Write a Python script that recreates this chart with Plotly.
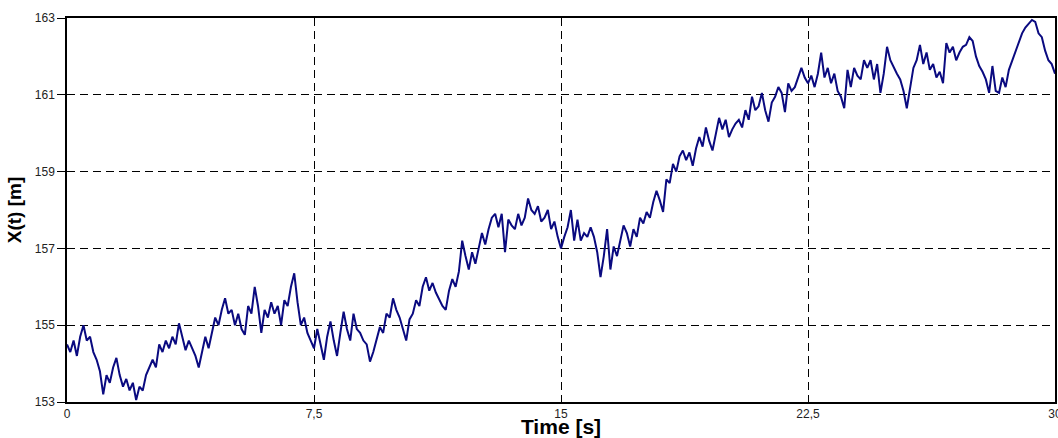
import numpy as np
import plotly.graph_objects as go

# Sampled position record, one value every 0.1 s from 0 to 30 s
time_s = np.round(np.arange(0, 30.01, 0.1), 2)

position_m = [
    # 0.0 - 2.9
    154.5, 154.3, 154.6, 154.2, 154.7, 155.0, 154.6, 154.7, 154.3, 154.1,
    153.8, 153.2, 153.7, 153.5, 153.9, 154.15, 153.7, 153.4, 153.6, 153.3,
    153.5, 153.05, 153.4, 153.3, 153.7, 153.9, 154.1, 153.9, 154.5, 154.3,
    # 3.0 - 5.9
    154.6, 154.4, 154.7, 154.5, 155.05, 154.7, 154.35, 154.6, 154.4, 154.2,
    153.9, 154.3, 154.7, 154.4, 154.8, 155.2, 155.0, 155.4, 155.7, 155.3,
    155.4, 155.0, 155.3, 154.9, 154.75, 155.5, 155.3, 156.0, 155.5, 154.8,
    # 6.0 - 8.9
    155.4, 155.2, 155.6, 155.3, 155.5, 155.0, 155.65, 155.5, 156.0, 156.35,
    155.6, 155.0, 155.2, 154.8, 154.6, 154.4, 154.9, 154.5, 154.1, 154.7,
    155.1, 154.6, 154.2, 154.8, 155.35, 154.9, 154.6, 155.3, 154.9, 154.8,
    # 9.0 - 11.9
    154.6, 154.5, 154.05, 154.3, 154.6, 154.95, 154.8, 155.3, 155.2, 155.7,
    155.4, 155.2, 154.9, 154.6, 155.15, 155.3, 155.65, 155.5, 156.0, 156.25,
    155.9, 156.1, 155.85, 155.65, 155.5, 155.4, 155.9, 156.2, 156.0, 156.4,
    # 12.0 - 14.9
    157.2, 156.8, 156.45, 156.9, 156.6, 157.0, 157.4, 157.1, 157.5, 157.8,
    157.9, 157.55, 157.9, 156.9, 157.75, 157.6, 157.5, 157.9, 157.6, 157.8,
    158.3, 158.0, 157.9, 158.1, 157.7, 157.8, 158.0, 157.5, 157.7, 157.3,
    # 15.0 - 17.9
    157.0, 157.3, 157.55, 158.0, 157.2, 157.75, 157.2, 157.4, 157.3, 157.55,
    157.3, 156.9, 156.25, 156.8, 157.5, 156.45, 157.05, 156.8, 157.2, 157.6,
    157.4, 157.05, 157.5, 157.3, 157.8, 157.65, 157.95, 157.8, 158.2, 158.5,
    # 18.0 - 20.9
    158.25, 157.95, 158.8, 158.7, 159.2, 159.0, 159.4, 159.55, 159.3, 159.5,
    159.15, 159.6, 159.9, 159.65, 160.15, 159.8, 159.55, 160.0, 160.4, 160.1,
    160.35, 159.9, 160.1, 160.25, 160.35, 160.15, 160.6, 160.35, 160.95, 160.6,
    # 21.0 - 23.9
    160.7, 161.05, 160.6, 160.3, 160.8, 160.95, 161.2, 161.05, 160.55, 161.3,
    161.1, 161.2, 161.45, 161.7, 161.45, 161.3, 161.5, 161.2, 161.55, 162.1,
    161.45, 161.7, 161.3, 161.55, 161.1, 160.95, 160.65, 161.65, 161.2, 161.7,
    # 24.0 - 26.9
    161.5, 161.4, 161.9, 161.7, 161.9, 161.4, 161.8, 161.05, 161.55, 162.25,
    161.9, 161.7, 161.55, 161.4, 161.1, 160.65, 161.2, 161.7, 161.9, 162.3,
    161.8, 162.1, 161.65, 161.8, 161.45, 161.6, 161.3, 162.35, 162.1, 162.25,
    # 27.0 - 30.0
    161.9, 162.1, 162.25, 162.3, 162.5, 162.4, 162.0, 161.75, 161.6, 161.4,
    161.05, 161.75, 161.1, 161.05, 161.45, 161.2, 161.65, 161.9, 162.1, 162.4,
    162.6, 162.75, 162.85, 162.95, 162.9, 162.6, 162.5, 162.15, 161.9, 161.8,
    161.55,
]

x_tick_vals = [0, 7.5, 15, 22.5, 30]
x_tick_text = ["0", "7,5", "15", "22,5", "30"]
y_tick_vals = [153, 155, 157, 159, 161, 163]

fig = go.Figure()
fig.add_trace(go.Scatter(
    x=time_s, y=position_m, mode="lines",
    line=dict(color="#0a0a80", width=2),
    showlegend=False,
))

axis_font = dict(family="Arial, Liberation Sans, sans-serif", size=12, color="#222222")
title_font = dict(family="Arial, Liberation Sans, sans-serif", color="#000000")

fig.update_xaxes(
    range=[0, 30], tickvals=x_tick_vals, ticktext=x_tick_text,
    showgrid=True, gridcolor="#000000", gridwidth=1, griddash="8px,5px",
    showline=True, linecolor="#000000", linewidth=1.5, mirror=True,
    ticks="", tickfont=axis_font, zeroline=False, ticklabeloverflow="allow",
    title=dict(text="<b>Time [s]</b>", font=dict(size=21, **title_font), standoff=1),
)
fig.update_yaxes(
    range=[153, 163], tickvals=y_tick_vals,
    showgrid=True, gridcolor="#000000", gridwidth=1, griddash="8px,5px",
    showline=True, linecolor="#000000", linewidth=1.5, mirror=True,
    ticks="outside", ticklen=8, tickcolor="#000000", tickfont=axis_font,
    zeroline=False,
    title=dict(text="<b>X(t) [m]</b>", font=dict(size=19, **title_font), standoff=8),
)

fig.update_layout(
    width=1058, height=438,
    margin=dict(l=67, r=3, t=18, b=36, autoexpand=False),
    paper_bgcolor="#ffffff", plot_bgcolor="#ffffff",
)

fig.write_html("out.html")
